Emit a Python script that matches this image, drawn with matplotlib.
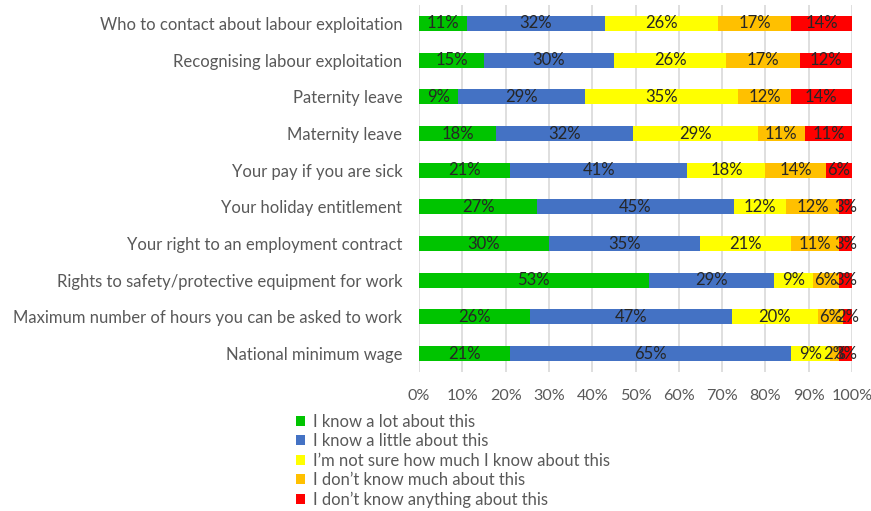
import matplotlib
matplotlib.use("Agg")
import matplotlib.pyplot as plt
from matplotlib.patches import Patch
import numpy as np

plt.rcParams['font.family'] = ['Lato', 'DejaVu Sans']

categories = [
    "Who to contact about labour exploitation",
    "Recognising labour exploitation",
    "Paternity leave",
    "Maternity leave",
    "Your pay if you are sick",
    "Your holiday entitlement",
    "Your right to an employment contract",
    "Rights to safety/protective equipment for work",
    "Maximum number of hours you can be asked to work",
    "National minimum wage",
]

series_names = [
    "I know a lot about this",
    "I know a little about this",
    "I\u2019m not sure how much I know about this",
    "I don\u2019t know much about this",
    "I don\u2019t know anything about this",
]

know_a_lot = [11, 15, 9, 18, 21, 27, 30, 53, 26, 21]
know_a_little = [32, 30, 29, 32, 41, 45, 35, 29, 47, 65]
not_sure = [26, 26, 35, 29, 18, 12, 21, 9, 20, 9]
not_much = [17, 17, 12, 11, 14, 12, 11, 6, 6, 2]
nothing = [14, 12, 14, 11, 6, 3, 3, 3, 2, 3]

colors = ["#00C400", "#4472C4", "#FFFF00", "#FFC000", "#FF0000"]

tick_labels = ["0%", "10%", "20%", "30%", "40%", "50%", "60%", "70%", "80%", "90%", "100%"]

values = np.array([know_a_lot, know_a_little, not_sure, not_much, nothing], dtype=float)
shares = values / values.sum(axis=0) * 100  # 100% stacked

FS = 12

fig = plt.figure(figsize=(8.71, 5.11), dpi=100)
ax = fig.add_axes([0.4811, 0.272, 0.4971, 0.718])

y = np.arange(len(categories))
left = np.zeros(len(categories))
for i in range(len(series_names)):
    ax.barh(y, shares[i], left=left, height=0.41, color=colors[i],
            label=series_names[i], zorder=3)
    for j in range(len(categories)):
        ax.text(left[j] + shares[i][j] / 2, y[j], f"{values[i][j]:.0f}%",
                ha="center", va="center", fontsize=FS, color="#262626", zorder=4)
    left += shares[i]

ax.set_xlim(0, 100)
ax.set_ylim(len(categories) - 0.5, -0.5)
ax.set_xticks(np.arange(0, 101, 10))
ax.set_xticklabels(tick_labels)
ax.set_yticks(y)
ax.set_yticklabels(categories)
ax.tick_params(axis="both", length=0, labelsize=FS, colors="#595959")
ax.tick_params(axis="x", pad=12, labelsize=11.6)
ax.tick_params(axis="y", pad=12)
ax.grid(axis="x", color="#D9D9D9", linewidth=1.2, zorder=0)
for s in ax.spines.values():
    s.set_visible(False)

handles = [Patch(facecolor=c, edgecolor="none") for c in colors]
leg = fig.legend(handles, series_names, loc="upper left",
                 bbox_to_anchor=(0.340, 0.190), frameon=False,
                 fontsize=FS, handlelength=0.55, handleheight=0.55,
                 handletextpad=0.45, labelspacing=0.2, borderpad=0,
                 borderaxespad=0)
for t in leg.get_texts():
    t.set_color("#595959")

fig.savefig("out.png", dpi=100)
